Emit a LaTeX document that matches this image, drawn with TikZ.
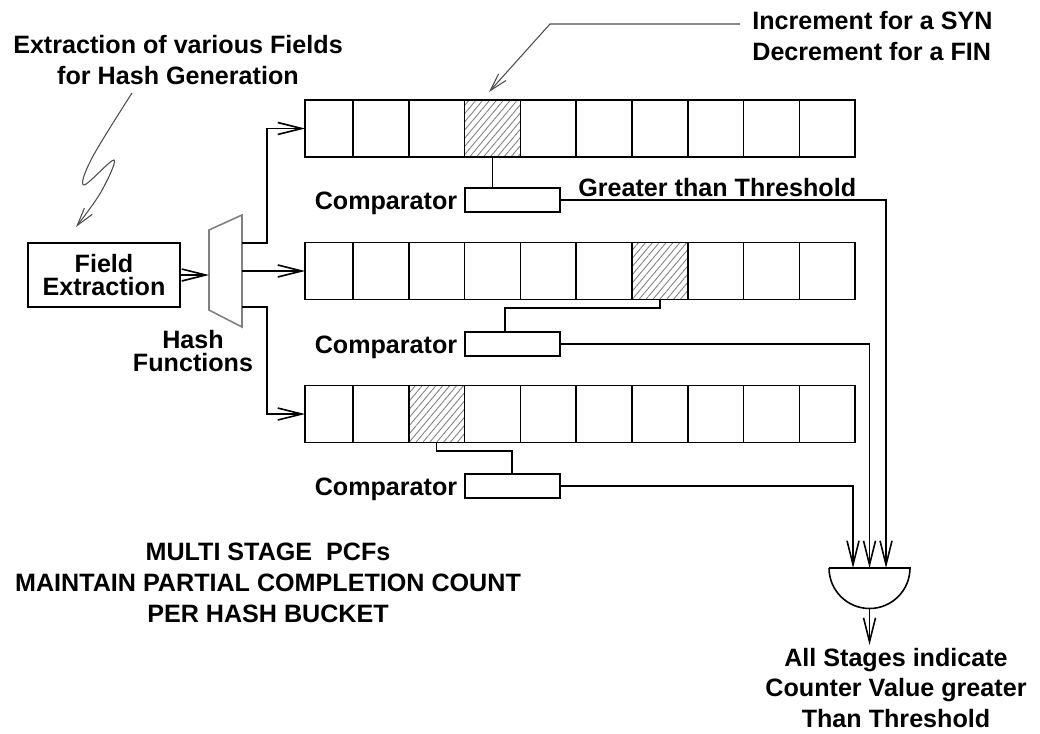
\documentclass[tikz,border=0pt]{standalone}
\usepackage{fontspec}
\setmainfont{Liberation Sans}
\usepackage{tikz}
\usetikzlibrary{arrows.meta, positioning, patterns.meta}
\newcommand{\lblfont}{\fontsize{14.3pt}{17.5pt}\selectfont\bfseries}

\begin{document}
\begin{tikzpicture}[x=0.02cm, y=-0.02cm, >={Straight Barb[length=4.8mm, width=2.4mm]},
    cell/.style={draw, line width=0.9pt, minimum width=1.116cm, minimum height=1.14cm, inner sep=0pt, outer sep=0pt},
    hashcell/.style={cell, pattern={Lines[angle=50, distance=3pt, line width=0.5pt]}, pattern color=gray},
    cmp/.style={draw, line width=0.9pt, minimum width=1.9cm, minimum height=0.48cm, inner sep=0pt, outer sep=0pt},
    lbl/.style={font=\lblfont, inner sep=0pt, align=center},
    wire/.style={line width=0.9pt},
    arr/.style={->, line width=0.9pt},
    pointer/.style={-{Straight Barb[length=3.6mm, width=2mm]}, line width=0.6pt, color=black!70}]
    \useasboundingbox (0,0) rectangle (1040,733);

    % Counter stages
    \foreach \r/\y/\h in {1/128.5/3, 2/271/6, 3/414/2} {
        \node[cell, minimum width=0.96cm] (r\r c0) at (329, \y) {};
        \foreach \i in {1,...,9} {
            \ifnum\i=\h \def\cstyle{hashcell}\else\def\cstyle{cell}\fi
            \node[\cstyle] (r\r c\i) at ({325.1+55.8*\i}, \y) {};
        }
    }

    % Comparators
    \node[cmp] (c1) at (512.5,200) {};
    \node[cmp] (c2) at (512.5,344) {};
    \node[cmp] (c3) at (512.5,486) {};
    \foreach \k in {1,2,3}
        \node[lbl, left=0.15cm of c\k, yshift=-2pt] (cl\k) {Comparator};
    \node[lbl, anchor=west] (gt) at (578,188) {Greater than Threshold};

    % Counter to comparator
    \draw[wire] (r1c3.south) -- (r1c3.south |- c1.north);
    \coordinate (k2) at (505,308);
    \draw[wire] (r2c6.south) |- (k2) -- (k2 |- c2.north);
    \coordinate (k3) at (512,451);
    \draw[wire] (r3c2.south) |- (k3) -- (k3 |- c3.north);

    % Field extraction and hash functions
    \node[draw, wire, lbl, minimum width=3.04cm, minimum height=1.28cm] (fe) at (104,275) {Field\\[-4.5pt]Extraction};
    \draw[line width=0.9pt, color=gray] (209,230) -- (242,215) -- (242,327) -- (209,310) -- cycle;
    \node[lbl] (hf) at (193,351) {Hash\\[-4.5pt]Functions};
    \coordinate (hin) at (209,275);
    \coordinate (h1) at (242,243);
    \coordinate (h2) at (242,271);
    \coordinate (h3) at (242,307);
    \draw[arr] (fe.east) -- (hin);
    \draw[arr] (h1) -- ++(25,0) |- (r1c0.west);
    \draw[arr] (h2) -- (r2c0.west);
    \draw[arr] (h3) -- ++(25,0) |- (r3c0.west);

    % AND gate
    \coordinate (gi1) at (886,568);
    \coordinate (gi2) at (869.5,568);
    \coordinate (gi3) at (853,568);
    \draw[wire] (829,568) -- (910,568) arc[start angle=0, end angle=-180, radius=0.81cm] -- cycle;
    \draw[arr] (c1.east) -| (gi1);
    \draw[arr] (c2.east) -| (gi2);
    \draw[arr] (c3.east) -| (gi3);
    \coordinate (gbot) at (869.5,609);
    \coordinate (gout) at (869.5,645);
    \draw[arr] (gbot) -- (gout);
    \node[lbl] (res) at (896,688) {All Stages indicate\\Counter Value greater\\Than Threshold};

    % Callouts
    \node[lbl] (src) at (178,60) {Extraction of various Fields\\for Hash Generation};
    \draw[pointer] plot[smooth, tension=0.6] coordinates {(132,93) (92,158) (84,185) (114,160) (101,192) (76,227)};
    \node[lbl, anchor=west, align=left] (inc) at (752,36) {Increment for a SYN\\Decrement for a FIN};
    \coordinate (incA) at (740,24);
    \coordinate (incB) at (550,24);
    \coordinate (inctip) at (489,92);
    \draw[pointer] (incA) -- (incB) -- (inctip);

    \node[lbl] (note) at (268,583) {MULTI STAGE~~PCFs\\MAINTAIN PARTIAL COMPLETION COUNT\\PER HASH BUCKET};
\end{tikzpicture}
\end{document}
